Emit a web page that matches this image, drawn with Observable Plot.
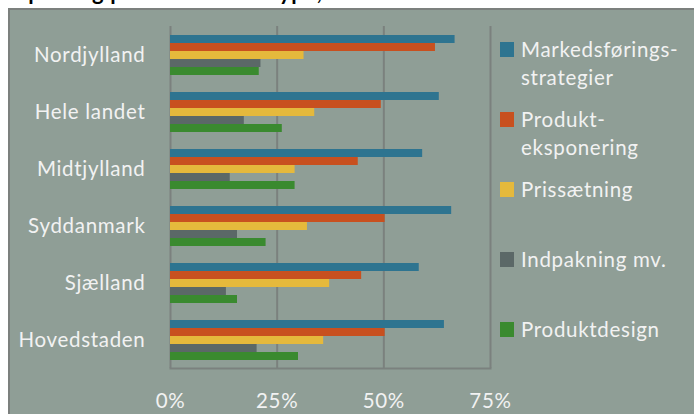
<!DOCTYPE html>
<html>
<head>
<meta charset="utf-8">
<script src="https://cdn.jsdelivr.net/npm/d3@7"></script>
<script src="https://cdn.jsdelivr.net/npm/@observablehq/plot@0.6"></script>
<style>
  html, body { margin: 0; padding: 0; background: #ffffff; }
  body { position: relative; width: 694px; height: 414px; overflow: hidden; font-family: Lato, "Open Sans", sans-serif; }
  #title { position: absolute; left: 0; top: 0; width: 694px; height: 8px; overflow: hidden; }
  #title span { position: absolute; left: 10px; top: -19px; font: bold 22px/22px Lato, sans-serif; color: #000; white-space: nowrap; letter-spacing: 0.6px; }
  #panel { position: absolute; left: 8px; top: 8px; width: 700px; height: 420px; box-sizing: border-box;
           background: #8f9e96; border: 2px solid #7c807e; }
  #chart { position: absolute; left: 0; top: 8px; }
  #legend { position: absolute; left: 500px; top: 34.5px; color: #f2f2f2; font-size: 20.5px; letter-spacing: 0.7px; }
  .item { height: 70px; display: flex; align-items: flex-start; }
  .sw { width: 14px; height: 15px; margin-top: 7.5px; margin-right: 7px; flex: none; }
  .lbl { line-height: 28px; white-space: nowrap; }
</style>
</head>
<body>
<div id="title"><span>Opdeling på konkurrencetype, %</span></div>
<div id="panel"></div>
<div id="chart"></div>
<div id="legend"></div>
<script>
// Categories (top to bottom)
const regions = ["Nordjylland", "Hele landet", "Midtjylland", "Syddanmark", "Sjælland", "Hovedstaden"];
// Series
const series = ["Markedsføringsstrategier", "Produkteksponering", "Prissætning", "Indpakning mv.", "Produktdesign"];
const legendLabels = [["Markedsførings-", "strategier"], ["Produkt-", "eksponering"], ["Prissætning"], ["Indpakning mv."], ["Produktdesign"]];
// Values (shares) per region, in region order
const markedsforing      = [0.667, 0.630, 0.591, 0.659, 0.583, 0.642];
const produkteksponering = [0.621, 0.494, 0.440, 0.503, 0.448, 0.503];
const prissaetning       = [0.313, 0.338, 0.292, 0.321, 0.373, 0.359];
const indpakning         = [0.212, 0.173, 0.140, 0.157, 0.131, 0.203];
const produktdesign      = [0.208, 0.262, 0.292, 0.224, 0.157, 0.300];
const xTicks = [0, 0.25, 0.5, 0.75];
const colors = ["#2e7490", "#c8501f", "#e5b93c", "#5b6867", "#3a8a2f"];

const valuesBySeries = [markedsforing, produkteksponering, prissaetning, indpakning, produktdesign];
const data = [];
regions.forEach((r, i) => series.forEach((s, j) => data.push({region: r, series: s, value: valuesBySeries[j][i]})));

const chart = Plot.plot({
  width: 694,
  height: 406,
  marginLeft: 170,
  marginRight: 204,
  marginTop: 15,
  marginBottom: 44,
  style: { background: "transparent", color: "#f2f2f2", fontFamily: "Lato, sans-serif", fontSize: "20.5px", letterSpacing: "0.7px", overflow: "visible" },
  x: { domain: [0, 0.75] },
  fy: { domain: regions, padding: 0, label: null, tickSize: 0, tickPadding: 25 },
  y: { domain: series, paddingInner: 0, paddingOuter: 0.78, axis: null },
  color: { domain: series, range: colors },
  marks: [
    Plot.gridX(xTicks, { stroke: "#7b817e", strokeOpacity: 1, strokeWidth: 2 }),
    Plot.frame({ anchor: "bottom", facetAnchor: "bottom", stroke: "#7b817e", strokeWidth: 2 }),
    Plot.barX(data, { x: "value", y: "series", fy: "region", fill: "series" }),
    Plot.axisX(xTicks, { tickFormat: d3.format(".0%"), tickSize: 0, tickPadding: 25, label: null, fill: "#f2f2f2" })
  ]
});
document.getElementById("chart").appendChild(chart);

const legend = document.getElementById("legend");
legendLabels.forEach((lines, i) => {
  const item = document.createElement("div");
  item.className = "item";
  const sw = document.createElement("div");
  sw.className = "sw";
  sw.style.background = colors[i];
  const lbl = document.createElement("div");
  lbl.className = "lbl";
  lbl.innerHTML = lines.join("<br>");
  item.appendChild(sw);
  item.appendChild(lbl);
  legend.appendChild(item);
});
</script>
</body>
</html>
